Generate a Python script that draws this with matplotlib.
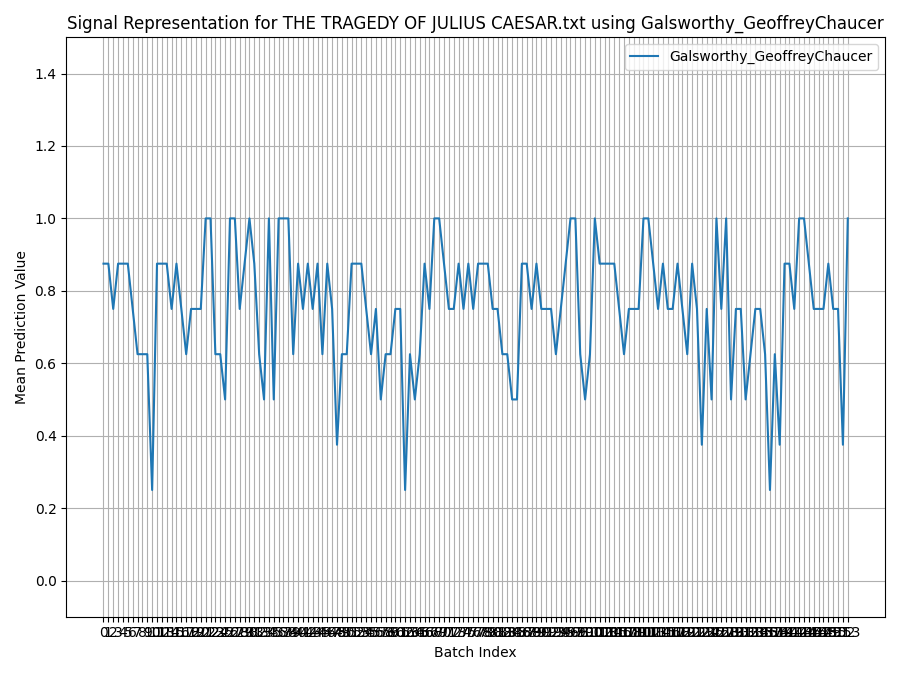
import matplotlib

matplotlib.use("Agg")
import matplotlib.pyplot as plt

model_name = "Galsworthy_GeoffreyChaucer"
book_name = "THE TRAGEDY OF JULIUS CAESAR.txt"

# mean prediction per batch, in eighths
mean_pred = [
    0.875, 0.875, 0.75, 0.875, 0.875, 0.875, 0.75, 0.625, 0.625, 0.625,
    0.25, 0.875, 0.875, 0.875, 0.75, 0.875, 0.75, 0.625, 0.75, 0.75,
    0.75, 1.0, 1.0, 0.625, 0.625, 0.5, 1.0, 1.0, 0.75, 0.875,
    1.0, 0.875, 0.625, 0.5, 1.0, 0.5, 1.0, 1.0, 1.0, 0.625,
    0.875, 0.75, 0.875, 0.75, 0.875, 0.625, 0.875, 0.75, 0.375, 0.625,
    0.625, 0.875, 0.875, 0.875, 0.75, 0.625, 0.75, 0.5, 0.625, 0.625,
    0.75, 0.75, 0.25, 0.625, 0.5, 0.625, 0.875, 0.75, 1.0, 1.0,
    0.875, 0.75, 0.75, 0.875, 0.75, 0.875, 0.75, 0.875, 0.875, 0.875,
    0.75, 0.75, 0.625, 0.625, 0.5, 0.5, 0.875, 0.875, 0.75, 0.875,
    0.75, 0.75, 0.75, 0.625, 0.75, 0.875, 1.0, 1.0, 0.625, 0.5,
    0.625, 1.0, 0.875, 0.875, 0.875, 0.875, 0.75, 0.625, 0.75, 0.75,
    0.75, 1.0, 1.0, 0.875, 0.75, 0.875, 0.75, 0.75, 0.875, 0.75,
    0.625, 0.875, 0.75, 0.375, 0.75, 0.5, 1.0, 0.75, 1.0, 0.5,
    0.75, 0.75, 0.5, 0.625, 0.75, 0.75, 0.625, 0.25, 0.625, 0.375,
    0.875, 0.875, 0.75, 1.0, 1.0, 0.875, 0.75, 0.75, 0.75, 0.875,
    0.75, 0.75, 0.375, 1.0,
]
batch_idx = list(range(len(mean_pred)))

fig, ax = plt.subplots(figsize=(9, 6.75), dpi=100)
ax.plot(batch_idx, mean_pred, label=model_name)
ax.set_title(f"Signal Representation for {book_name} using {model_name}")
ax.set_xlabel("Batch Index")
ax.set_ylabel("Mean Prediction Value")
ax.set_xticks(batch_idx)
ax.set_xticklabels([str(i) for i in batch_idx])
ax.set_ylim(-0.1, 1.5)
ax.grid(True)
ax.legend(loc="upper right")
fig.tight_layout()
fig.savefig("out.png")
plt.close(fig)
